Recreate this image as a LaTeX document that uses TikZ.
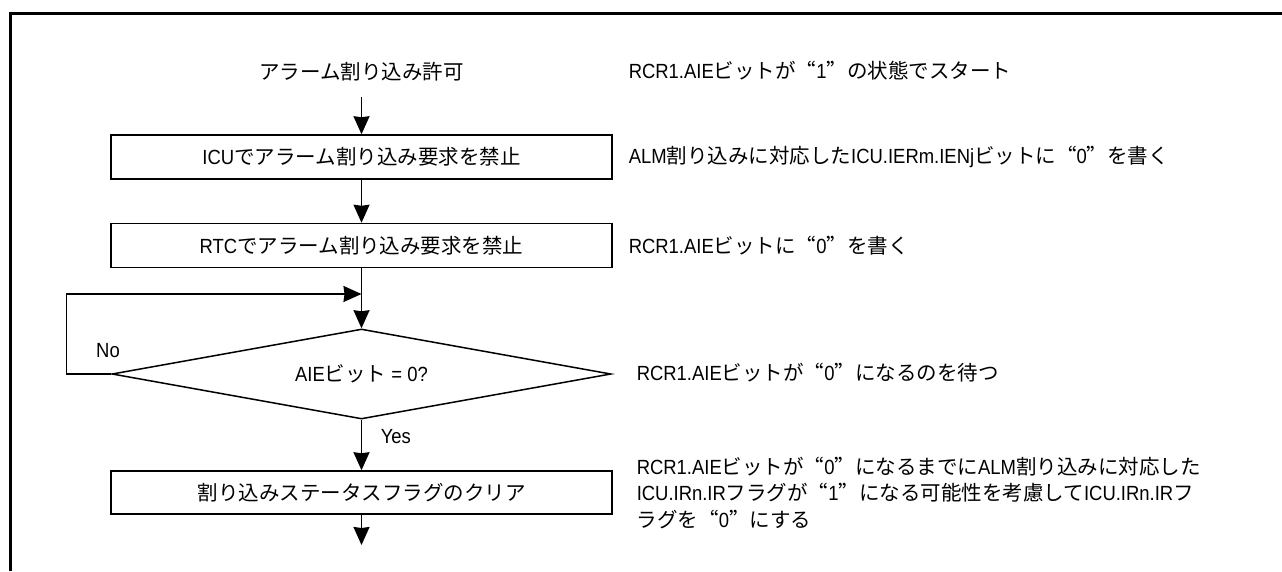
\documentclass[tikz,border=0pt]{standalone}
\usepackage{fontspec}
\setmainfont[FakeStretch=0.9]{Liberation Sans}
\newfontfamily\jafont[Scale=1.0, RawFeature=+fwid]{Noto Sans CJK JP}
\usetikzlibrary{shapes.geometric,arrows.meta}
% Japanese characters switch to the CJK font on their own
\XeTeXinterchartokenstate=1
\chardef\jaclass=7
\newcount\jacode
\def\jarange#1#2{\jacode=#1
  \loop\XeTeXcharclass\jacode=\jaclass
  \ifnum\jacode<#2 \advance\jacode by 1 \repeat}
\jarange{"3000}{"30FF}
\jarange{"4E00}{"9FFF}
\jarange{"FF00}{"FFEF}
\jarange{"201C}{"201D}
\XeTeXinterchartoks 0 \jaclass = {\begingroup\jafont}
\XeTeXinterchartoks 4095 \jaclass = {\begingroup\jafont}
\XeTeXinterchartoks \jaclass 0 = {\endgroup}
\XeTeXinterchartoks \jaclass 4095 = {\endgroup}
\tikzset{
  stepbox/.style={draw, minimum width=501pt, minimum height=44pt, inner sep=0pt},
  decbox/.style={draw, diamond, aspect=5.5, minimum width=499pt, minimum height=90pt, inner sep=0pt},
  note/.style={anchor=west, align=left, inner sep=0pt},
}
\begin{document}
\begin{tikzpicture}[x=1pt, y=-1pt, >={Stealth[length=18pt,width=16pt,inset=1pt]}, line width=1.5pt,
  font=\fontsize{20.5}{26.5}\selectfont]
\useasboundingbox (0,0) rectangle (1282,571);
\draw[line width=2.8pt] (10.5,571)--(10.5,13.7)--(1282,13.7);
% flow
\node[inner sep=0pt, outer sep=0pt] (start) at (361.5,72) {アラーム割り込み許可};
\coordinate (startdn) at (361.5,97);
\node[stepbox] (icu) at (361.5,157) {ICUでアラーム割り込み要求を禁止};
\node[stepbox] (rtc) at (361.5,245.5) {RTCでアラーム割り込み要求を禁止};
\coordinate (join) at (361.5,294);
\node[decbox] (aie) at (361.5,374) {AIEビット = 0?};
\node[stepbox, minimum height=43pt] (clr) at (361.5,492.5) {割り込みステータスフラグのクリア};
\coordinate (fin) at (361.5,545);
\node (no) at (108,351) {No};
\node[anchor=west, inner sep=0pt] (yes) at (380,437) {Yes};
\draw[->](startdn)--(icu);
\draw[->](icu)--(rtc);
\draw(rtc)--(join);
\draw[->](join)--(aie);
\draw[->](aie.west)--++(-45,0)|-(join);
\draw[->](aie)--(clr);
\draw[->](clr)--(fin);
% notes
\node[note] (n1) at (628,71) {RCR1.AIEビットが“1”の状態でスタート};
\node[note] (n2) at (628,157) {ALM割り込みに対応したICU.IERm.IENjビットに“0”を書く};
\node[note] (n3) at (628,246) {RCR1.AIEビットに“0”を書く};
\node[note] (n4) at (636,373) {RCR1.AIEビットが“0”になるのを待つ};
\node[note] (n5) at (636,493) {RCR1.AIEビットが“0”になるまでにALM割り込みに対応した\\ICU.IRn.IRフラグが“1”になる可能性を考慮してICU.IRn.IRフ\\ラグを“0”にする};
\end{tikzpicture}
\end{document}
